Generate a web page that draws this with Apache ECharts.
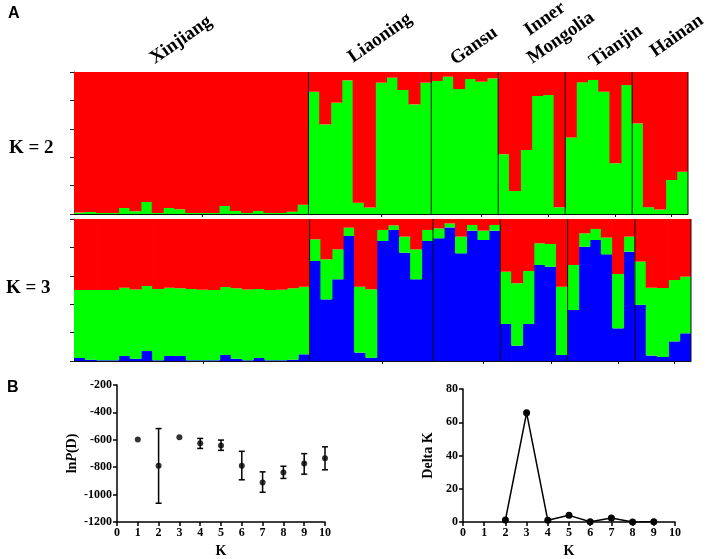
<!DOCTYPE html>
<html><head><meta charset="utf-8">
<script src="https://cdn.jsdelivr.net/npm/echarts@6/dist/echarts.min.js"></script>
<style>html,body{margin:0;padding:0;background:#fff}#c{width:707px;height:559px}</style>
</head><body><div id="c"></div>
<script>
// ---------- data ----------
const groups = ['Xinjiang', 'Liaoning', 'Gansu', 'Inner', 'Mongolia', 'Tianjin', 'Hainan'];
const groupSizes = [21, 11, 6, 6, 6, 5];

// K = 2 : membership in the green cluster (remainder = red cluster)
const k2Green = [
  0.010, 0.014, 0.007, 0.007, 0.042, 0.019, 0.085, 0.007, 0.042, 0.033, 0.007,
  0.007, 0.007, 0.056, 0.021, 0.007, 0.021, 0.007, 0.007, 0.016, 0.066,
  0.861, 0.631, 0.784, 0.941, 0.080, 0.045, 0.925, 0.960, 0.873, 0.772, 0.925,
  0.937, 0.967, 0.880, 0.951, 0.932, 0.955,
  0.420, 0.162, 0.451, 0.831, 0.838, 0.047,
  0.538, 0.927, 0.944, 0.861, 0.357, 0.908,
  0.638, 0.048, 0.031, 0.239, 0.298
];
// K = 3 : blue and green clusters (remainder = red cluster)
const k3Blue = [
  0.021, 0.009, 0.005, 0.005, 0.035, 0.016, 0.070, 0.005, 0.035, 0.035, 0.005,
  0.005, 0.005, 0.042, 0.016, 0.005, 0.021, 0.005, 0.005, 0.009, 0.047,
  0.704, 0.434, 0.575, 0.880, 0.059, 0.023, 0.845, 0.923, 0.763, 0.575, 0.845,
  0.864, 0.941, 0.758, 0.918, 0.852, 0.918,
  0.261, 0.108, 0.261, 0.676, 0.664, 0.042,
  0.359, 0.805, 0.852, 0.751, 0.230, 0.770,
  0.396, 0.038, 0.028, 0.138, 0.195
];
const k3Green = [
  0.479, 0.491, 0.495, 0.495, 0.481, 0.488, 0.458, 0.502, 0.481, 0.477, 0.502,
  0.497, 0.495, 0.479, 0.496, 0.499, 0.486, 0.495, 0.497, 0.503, 0.476,
  0.153, 0.282, 0.211, 0.059, 0.464, 0.482, 0.078, 0.032, 0.113, 0.211, 0.078,
  0.070, 0.028, 0.118, 0.040, 0.066, 0.040,
  0.368, 0.439, 0.373, 0.153, 0.160, 0.481,
  0.317, 0.094, 0.078, 0.118, 0.383, 0.106,
  0.304, 0.478, 0.486, 0.432, 0.399
];
// Panel B
const kValues = [1, 2, 3, 4, 5, 6, 7, 8, 9, 10];
const lnPMean = [-598, -790, -581, -626, -641, -790, -911, -839, -773, -735];
const lnPLow  = [null, -1063, null, -663, -677, -892, -983, -882, -851, -819];
const lnPHigh = [null, -518, null, -590, -602, -684, -834, -793, -701, -651];
const deltaKK = [2, 3, 4, 5, 6, 7, 8, 9];
const deltaK  = [1.2, 65.7, 1.0, 4.0, 0.2, 2.4, 0.0, 0.2];

// ---------- derived ----------
const nSamples = k2Green.length;
const samples = k2Green.map((_, i) => String(i + 1));
const boundaries = [];
const tickIdx = [];
{
  let s = 0;
  groupSizes.forEach(n => {
    tickIdx.push(s + Math.floor(n / 2) + 1);
    s += n; boundaries.push([s]);
  });
}
tickIdx[tickIdx.length - 1] = nSamples - 2;
const k2Red = k2Green.map(g => +(1 - g).toFixed(3));
const k3Red = k3Blue.map((b, i) => +(1 - b - k3Green[i]).toFixed(3));

// ---------- layout / style ----------
const serif = "'Liberation Serif','Times New Roman',serif";
const sans = "'Liberation Sans',Arial,sans-serif";
const RED = '#ff0000', GREEN = '#00ff00', BLUE = '#0000ff';
const labelPos = [[181, 40], [380, 38], [474, 46], [545, 19], [561, 38], [616, 46], [677, 36]];
const labelRot = 35 * Math.PI / 180;

const chart = echarts.init(document.getElementById('c'), null, {renderer: 'canvas'});

function structX(gridIndex) {
  return {
    type: 'category', gridIndex, data: samples, boundaryGap: true,
    axisLine: {show: true, lineStyle: {color: '#111', width: 1}},
    axisTick: {show: true, alignWithLabel: true, length: 3,
      interval: (i) => tickIdx.indexOf(i) >= 0, lineStyle: {color: '#111'}},
    axisLabel: {show: false}, splitLine: {show: false}, splitArea: {show: false}
  };
}
function structY(gridIndex) {
  return {
    type: 'value', gridIndex, min: 0, max: 1, interval: 0.2,
    axisLine: {show: true, lineStyle: {color: '#222', width: 1}},
    axisTick: {show: true, length: 4, lineStyle: {color: '#222'}},
    axisLabel: {show: false}, splitLine: {show: false}
  };
}
function hiddenX(gridIndex) {
  return {type: 'value', gridIndex, min: 0, max: nSamples, show: false,
    splitLine: {show: false}};
}
const axLabel = {fontFamily: serif, fontWeight: 'bold', fontSize: 12, color: '#000',
  formatter: v => String(v)};
function bAxis(extra) {
  return Object.assign({
    axisLine: {show: true, onZero: false, lineStyle: {color: '#000', width: 1.5}},
    axisTick: {show: true, length: 4, lineStyle: {color: '#000', width: 1.5}},
    axisLabel: Object.assign({margin: 5}, axLabel),
    splitLine: {show: false},
    nameLocation: 'middle',
    nameTextStyle: {fontFamily: serif, fontWeight: 'bold', fontSize: 14, color: '#000'}
  }, extra);
}
function sepSeries(xi, yi) {
  return {
    type: 'custom', xAxisIndex: xi, yAxisIndex: yi, data: boundaries, silent: true, z: 5,
    renderItem: (p, api) => {
      const a = api.coord([api.value(0), 0]);
      const b = api.coord([api.value(0), 1]);
      return {type: 'line', shape: {x1: a[0], y1: a[1], x2: b[0], y2: b[1]},
        style: {stroke: '#111', lineWidth: 1}};
    }
  };
}
function barS(data, color, stack, xi, yi) {
  return {type: 'bar', data, stack, xAxisIndex: xi, yAxisIndex: yi,
    barWidth: 12,
    itemStyle: {color, borderWidth: 0}, silent: true};
}

const graphic = [
  {type: 'text', left: 8, top: 6, style: {text: 'A', font: 'bold 16px ' + sans, fill: '#000'}},
  {type: 'text', left: 7, top: 380, style: {text: 'B', font: 'bold 16px ' + sans, fill: '#000'}},
  {type: 'text', left: 9, top: 139, style: {text: 'K = 2', font: 'bold 19px ' + serif, fill: '#000'}},
  {type: 'text', left: 6, top: 279, style: {text: 'K = 3', font: 'bold 19px ' + serif, fill: '#000'}}
];
groups.forEach((g, i) => {
  graphic.push({type: 'text', x: labelPos[i][0], y: labelPos[i][1], rotation: labelRot,
    style: {text: g, font: 'bold 19px ' + serif, fill: '#000', align: 'center',
      verticalAlign: 'middle'}});
});

const errData = kValues.map((k, i) => [k, lnPLow[i], lnPHigh[i]]).filter(d => d[1] !== null);

chart.setOption({
  animation: false,
  backgroundColor: '#fff',
  graphic,
  grid: [
    {left: 74, top: 72, width: 614, height: 142},
    {left: 74, top: 219, width: 617, height: 142},
    {left: 117, top: 385, width: 208, height: 138},
    {left: 463, top: 389, width: 212, height: 135}
  ],
  xAxis: [
    structX(0), hiddenX(0), structX(1), hiddenX(1),
    bAxis({type: 'value', gridIndex: 2, min: 0, max: 10, interval: 1, name: 'K', nameGap: 22}),
    bAxis({type: 'value', gridIndex: 3, min: 0, max: 10, interval: 1, name: 'K', nameGap: 22})
  ],
  yAxis: [
    structY(0), structY(1),
    bAxis({type: 'value', gridIndex: 2, min: -1200, max: -200, interval: 200,
      name: '{a|ln}{b|P}{a|(D)}', nameGap: 38,
      nameTextStyle: {fontSize: 14, rich: {
        a: {fontFamily: serif, fontWeight: 'bold', fontSize: 14, color: '#000'},
        b: {fontFamily: serif, fontWeight: 'bold', fontStyle: 'italic', fontSize: 14, color: '#000'}}}}),
    bAxis({type: 'value', gridIndex: 3, min: 0, max: 80, interval: 20, name: 'Delta K', nameGap: 28})
  ],
  series: [
    barS(k2Green, GREEN, 'k2', 0, 0),
    barS(k2Red, RED, 'k2', 0, 0),
    barS(k3Blue, BLUE, 'k3', 2, 1),
    barS(k3Green, GREEN, 'k3', 2, 1),
    barS(k3Red, RED, 'k3', 2, 1),
    sepSeries(1, 0),
    sepSeries(3, 1),
    {
      type: 'custom', xAxisIndex: 4, yAxisIndex: 2, data: errData, silent: true,
      renderItem: (p, api) => {
        const lo = api.coord([api.value(0), api.value(1)]);
        const hi = api.coord([api.value(0), api.value(2)]);
        const w = 3;
        const st = {stroke: '#000', lineWidth: 1.5};
        return {type: 'group', children: [
          {type: 'line', shape: {x1: lo[0], y1: lo[1], x2: hi[0], y2: hi[1]}, style: st},
          {type: 'line', shape: {x1: lo[0] - w, y1: lo[1], x2: lo[0] + w, y2: lo[1]}, style: st},
          {type: 'line', shape: {x1: hi[0] - w, y1: hi[1], x2: hi[0] + w, y2: hi[1]}, style: st}
        ]};
      }
    },
    {type: 'scatter', xAxisIndex: 4, yAxisIndex: 2, symbol: 'circle', symbolSize: 6,
      itemStyle: {color: '#000'}, data: kValues.map((k, i) => [k, lnPMean[i]]), z: 3},
    {type: 'line', xAxisIndex: 5, yAxisIndex: 3, symbol: 'circle', symbolSize: 7,
      lineStyle: {color: '#000', width: 1.5}, itemStyle: {color: '#000'},
      data: deltaKK.map((k, i) => [k, deltaK[i]])}
  ]
});
</script></body></html>
